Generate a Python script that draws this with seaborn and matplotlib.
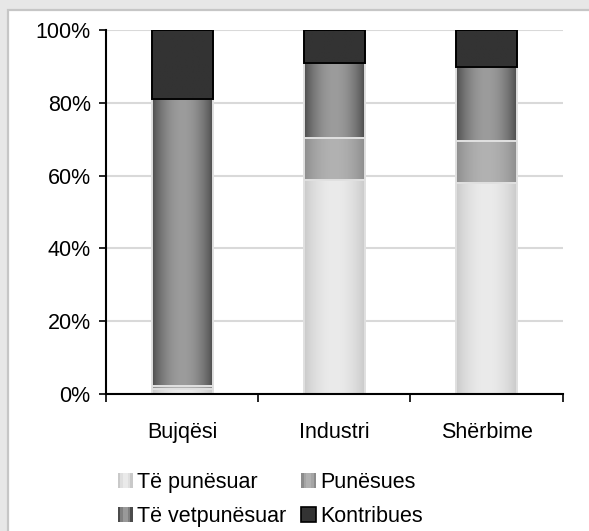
import numpy as np
import pandas as pd
import matplotlib
matplotlib.use("Agg")
import matplotlib.pyplot as plt
from matplotlib.patches import Rectangle
from matplotlib.legend_handler import HandlerBase
import seaborn as sns

# data (percent of employed)
sectors = ["Bujqësi", "Industri", "Shërbime"]
series_names = ["Të punësuar", "Punësues", "Të vetpunësuar", "Kontribues"]
te_punesuar = [1.4, 58.7, 58.0]
punesues = [0.9, 11.5, 11.6]
vetpunesuar = [78.7, 20.7, 20.3]
kontribues = [19.0, 9.1, 10.1]
y_ticks = [0, 20, 40, 60, 80, 100]
y_tick_labels = ["0%", "20%", "40%", "60%", "80%", "100%"]

# (edge colour, centre colour) for the horizontal gradients
shades = {
    "Të punësuar": ("#c9c9c9", "#ebebeb"),
    "Punësues": ("#8c8c8c", "#b2b2b2"),
    "Të vetpunësuar": ("#4b4b4b", "#9c9c9c"),
    "Kontribues": ("#333333", "#333333"),
}
outline = {"Të punësuar": "#e0e0e0", "Punësues": "#e0e0e0",
           "Të vetpunësuar": "#e0e0e0", "Kontribues": "#000000"}

sns.set_theme(style="white")
plt.rcParams["font.family"] = ["Liberation Sans", "DejaVu Sans"]
FS = 15.5

fig = plt.figure(figsize=(5.89, 5.31), dpi=100)
fig.patch.set_facecolor("#e7e7e7")
fig.patches.append(Rectangle((8 / 589, -0.1), 1.2, 1.1 - 10 / 531,
                             transform=fig.transFigure, facecolor="white",
                             edgecolor="#c6c6c6", linewidth=1.6, zorder=-10))
ax = fig.add_axes([106 / 589, 137 / 531, 456.7 / 589, 364 / 531])
ax.set_facecolor("none")

df = pd.DataFrame({"sector": sectors, "Të punësuar": te_punesuar,
                   "Punësues": punesues, "Të vetpunësuar": vetpunesuar,
                   "Kontribues": kontribues})


def gradient(edge, centre, n=64):
    e = np.array(matplotlib.colors.to_rgb(edge))
    c = np.array(matplotlib.colors.to_rgb(centre))
    t = np.linspace(0, 1, n)
    w = np.sin(np.pi * t) ** 0.8
    return (e[None, :] + (c - e)[None, :] * w[:, None])[None, :, :]


bottom = np.zeros(len(sectors))
for name in series_names:
    n_before = len(ax.patches)
    sns.barplot(data=df, x="sector", y=name, bottom=bottom, width=0.4,
                color=shades[name][1], ax=ax, zorder=3)
    for p, b, h in zip(ax.patches[n_before:], bottom, df[name]):
        x0, w = p.get_x(), p.get_width()
        ax.imshow(gradient(*shades[name]), extent=[x0, x0 + w, b, b + h],
                  aspect="auto", interpolation="bilinear", zorder=2.5)
        p.set_facecolor("none")
        p.set_edgecolor(outline[name])
        p.set_linewidth(1.4)
    bottom = bottom + df[name].values

ax.set_xlim(-0.5, 2.5)
ax.set_ylim(0, 100)
ax.set_xlabel("")
ax.set_ylabel("")

ax.set_yticks(y_ticks)
ax.set_yticklabels(y_tick_labels, fontsize=FS, color="black")
ax.set_xticks([-0.5, 0.5, 1.5, 2.5])
ax.set_xticklabels([])
ax.set_xticks([0, 1, 2], minor=True)
ax.set_xticklabels(sectors, minor=True, fontsize=FS, color="black")
ax.tick_params(axis="y", which="major", direction="out", length=5, width=1.2,
               color="black", pad=6, left=True)
ax.tick_params(axis="x", which="major", direction="out", length=5.5, width=1.2,
               color="black", bottom=True)
ax.tick_params(axis="x", which="minor", length=0, pad=20.5)

ax.grid(axis="y", color="#d9d9d9", linewidth=1.5)
ax.grid(axis="x", visible=False)
ax.set_axisbelow(True)
for s in ["top", "right"]:
    ax.spines[s].set_visible(False)
for s in ["left", "bottom"]:
    ax.spines[s].set_color("black")
    ax.spines[s].set_linewidth(1.5)
    ax.spines[s].set_zorder(4)


class GradientHandler(HandlerBase):
    def create_artists(self, legend, orig_handle, xdescent, ydescent,
                       width, height, fontsize, trans):
        edge, centre = shades[orig_handle]
        cols = gradient(edge, centre, n=6)[0]
        arts = []
        sw = height
        x_start = -xdescent + (width - sw) / 2
        for i, c in enumerate(cols):
            arts.append(Rectangle((x_start + i * sw / len(cols), -ydescent),
                                  sw / len(cols), height, facecolor=c,
                                  edgecolor="none", transform=trans))
        if orig_handle == "Kontribues":
            arts.append(Rectangle((x_start, -ydescent), sw, height,
                                  facecolor="none", edgecolor="black",
                                  linewidth=1.2, transform=trans))
        return arts


order = ["Të punësuar", "Të vetpunësuar", "Punësues", "Kontribues"]
leg = fig.legend(order, order, handler_map={str: GradientHandler()},
                 loc="center", bbox_to_anchor=(0.459, 0.0585), ncol=2,
                 frameon=False, fontsize=FS, handlelength=0.7,
                 handleheight=0.7, handletextpad=0.2, columnspacing=0.7,
                 labelspacing=0.6, borderpad=0)
for t in leg.get_texts():
    t.set_color("black")

fig.savefig("out.png", dpi=100, facecolor=fig.get_facecolor())
